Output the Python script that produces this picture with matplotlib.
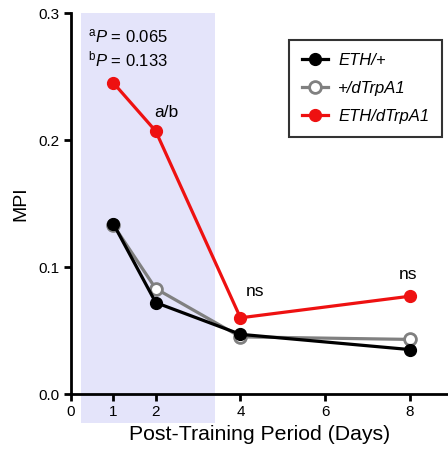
import matplotlib
matplotlib.use("Agg")
import matplotlib.pyplot as plt
from matplotlib.patches import Rectangle

plt.rcParams['font.family'] = ['Liberation Sans', 'DejaVu Sans']
plt.rcParams['mathtext.fontset'] = 'custom'
plt.rcParams['mathtext.rm'] = 'Liberation Sans'
plt.rcParams['mathtext.it'] = 'Liberation Sans:italic'

days = [1, 2, 4, 8]
eth_plus = [0.134, 0.072, 0.047, 0.035]
plus_trpa1 = [0.133, 0.083, 0.045, 0.043]
eth_trpa1 = [0.245, 0.207, 0.060, 0.077]

x_ticks = [0, 1, 2, 4, 6, 8]
y_ticks = [0.0, 0.1, 0.2, 0.3]

fig = plt.figure(figsize=(4.48, 4.58), dpi=100)
ax = fig.add_axes([0.1585, 0.1397, 0.8415, 0.8319])

ax.set_xlim(0, 8.9)
ax.set_ylim(0, 0.3)

# shaded training window, running below the axis line
ax.add_patch(Rectangle((0.24, -0.023), 3.16, 0.323, facecolor='#e4e4fa',
                       edgecolor='none', clip_on=False, zorder=0))

ms = 8.5
lw = 2.3
ax.plot(days, plus_trpa1, color='#808080', lw=lw, marker='o', ms=ms,
        mfc='white', mec='#808080', mew=2, label='+/dTrpA1', zorder=3)
ax.plot(days, eth_trpa1, color='#ee1111', lw=lw, marker='o', ms=ms,
        mfc='#ee1111', mec='#ee1111', label='ETH/dTrpA1', zorder=3)
ax.plot(days, eth_plus, color='black', lw=lw, marker='o', ms=ms,
        mfc='black', mec='black', label='ETH/+', zorder=4)

for s in ['top', 'right']:
    ax.spines[s].set_visible(False)
for s in ['left', 'bottom']:
    ax.spines[s].set_linewidth(2)

ax.set_xticks(x_ticks)
ax.set_yticks(y_ticks)
ax.set_yticklabels(['0.0', '0.1', '0.2', '0.3'])
ax.tick_params(axis='both', direction='out', width=2, length=5, labelsize=11)
ax.tick_params(axis='x', pad=3)

ax.set_xlabel('Post-Training Period (Days)', fontsize=15.3, labelpad=4)
ax.set_ylabel('MPI', fontsize=14, labelpad=6)

ax.text(0.40, 0.2815, r'$^{\mathrm{a}}P$ = 0.065', fontsize=12, va='center', ha='left')
ax.text(0.40, 0.2635, r'$^{\mathrm{b}}P$ = 0.133', fontsize=12, va='center', ha='left')

ax.text(2.25, 0.222, 'a/b', fontsize=12.5, ha='center', va='center')
ax.text(4.35, 0.081, 'ns', fontsize=12.5, ha='center', va='center')
ax.text(7.95, 0.094, 'ns', fontsize=12.5, ha='center', va='center')

handles, labels = ax.get_legend_handles_labels()
order = [2, 0, 1]
leg = ax.legend([handles[i] for i in order], [labels[i] for i in order],
                loc='upper right', bbox_to_anchor=(0.984, 0.929),
                borderaxespad=0.0,
                prop={'style': 'italic', 'size': 12}, frameon=True,
                fancybox=False, edgecolor='black', handlelength=1.6,
                handletextpad=0.6, borderpad=0.75, labelspacing=0.8)
leg.get_frame().set_linewidth(1.5)

fig.savefig('out.png', dpi=100)
